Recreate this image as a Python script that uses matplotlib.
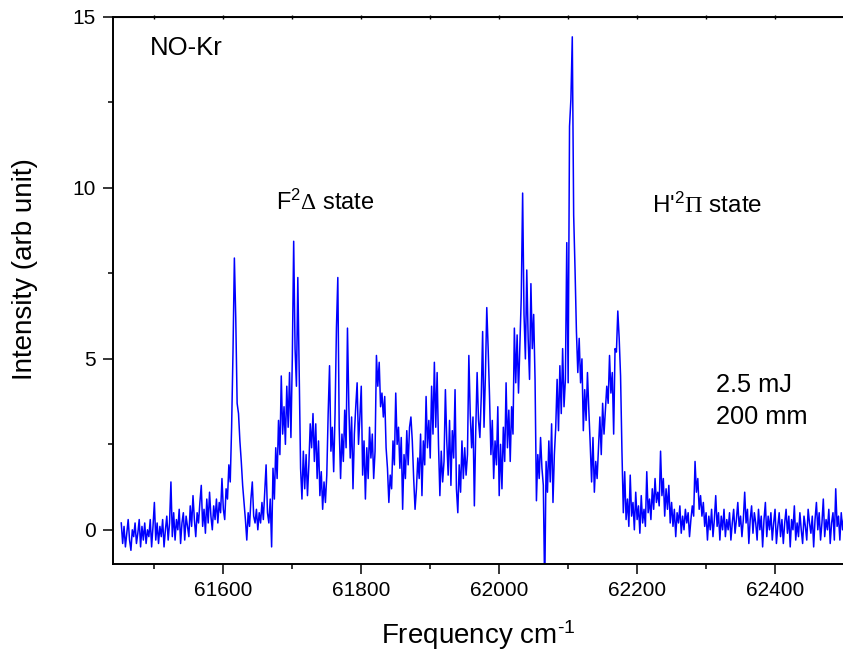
import numpy as np
import matplotlib
matplotlib.use("Agg")
import matplotlib.pyplot as plt
from matplotlib.ticker import MultipleLocator

plt.rcParams['font.family'] = ['Liberation Sans', 'DejaVu Sans']
plt.rcParams['mathtext.fontset'] = 'custom'
plt.rcParams['mathtext.rm'] = 'Liberation Sans'
plt.rcParams['mathtext.it'] = 'Liberation Sans:italic'
plt.rcParams['mathtext.bf'] = 'Liberation Serif'

# Frequency grid (cm^-1)
freq_start = 61452
freq_step = 2

# Intensity readings (arb. unit), in order of increasing frequency
baseline_low = [
    0.2, -0.4, 0.1, -0.5, -0.1, 0.3, -0.3, -0.6, 0.0, -0.2,
    0.2, -0.4, -0.1, 0.3, -0.5, 0.1, -0.3, 0.2, -0.4, 0.0,
    -0.2, 0.3, -0.5, 0.1, 0.8, -0.3, 0.2, -0.4, 0.1, -0.2,
    0.3, -0.5, 0.0, 0.4, -0.3, 0.2, 1.4, -0.2, 0.5, -0.3,
    0.3, 0.0, 0.6, -0.4, 0.2, 0.5, -0.3, 0.4, 0.1, -0.2,
    0.7, 0.1, 1.0, 0.3, -0.2, 0.5, 0.2, 0.8, 1.3, 0.1,
    0.6, -0.1, 0.9, 0.2, 1.1, 0.4, 0.0, 0.7, 0.3, 0.9,
    0.2, 0.8, 0.5, 1.5, 0.6, 0.3, 1.2, 0.9, 1.9, 1.4,
]
f_band = [
    3.0, 5.2, 7.95, 6.2, 3.7, 3.4, 2.6, 2.0, 1.3, 0.8,
    0.3, -0.3, 0.5, 0.1, 0.9, 1.4, 0.4, 0.2, 0.6, 0.0,
    0.5, 0.2, 0.8, 0.3, 1.1, 1.9, 0.5, 0.2, 0.9, -0.5,
    1.8, 0.9, 2.4, 1.5, 3.2, 2.2, 4.5, 2.8, 3.6, 2.5,
    4.2, 3.0, 4.6, 2.7, 5.0, 8.44, 5.3, 4.2, 7.38, 4.5,
    1.8, 0.9, 2.3, 1.2, 2.2, 1.0, 1.9, 3.1, 2.4, 3.4,
    2.0, 3.1, 1.5, 2.6, 1.0, 1.7, 0.6, 1.4, 0.8, 1.6,
    3.4, 4.8, 2.3, 3.0, 1.7, 3.4, 5.9, 7.38, 3.0, 1.5,
    2.8, 2.0, 3.5, 2.4, 5.9, 3.6, 2.1, 3.3, 1.2, 2.8,
    3.6, 4.3, 2.5, 3.3, 4.2, 1.6, 2.6, 0.9, 2.4, 1.5,
    3.0, 2.1, 2.8, 1.5, 2.3, 5.1, 4.2, 4.9, 3.6, 4.0,
    3.3, 3.9, 2.4, 1.8, 0.8, 1.6, 1.2, 2.6, 1.9, 4.0,
    2.5, 3.0, 1.8, 2.7, 0.6, 2.2, 1.5, 2.9, 1.9, 3.0,
    3.3, 2.6, 1.5, 0.6, 1.2, 2.1, 1.5, 2.8, 1.0, 2.6,
    1.9, 3.9, 2.4, 3.2, 2.1, 4.2, 2.8, 4.9, 3.0, 4.6,
    2.5, 1.0, 2.3, 1.4, 2.0, 4.1, 2.6, 1.6, 3.2, 1.3,
    2.9, 2.1, 4.1, 1.2, 0.5, 1.9, 1.1, 2.6, 1.5, 2.4,
    1.6, 2.2, 5.1, 3.4, 2.4, 3.3, 0.7, 2.9, 4.6, 3.2,
    2.7, 3.9, 5.8, 3.0, 4.5, 6.5, 5.3, 3.9, 2.2, 3.2,
    1.5, 2.6, 1.9, 3.6, 1.0, 2.5, 1.2, 3.0, 2.0, 4.3,
    2.4, 3.5, 2.0, 3.6, 2.8, 5.9, 4.3, 5.7, 4.0, 5.4,
]
h_band = [
    6.8, 9.85, 6.3, 5.0, 7.6, 5.6, 4.4, 7.2, 5.3, 6.3,
    4.4, 0.85, 2.2, 1.5, 2.7, 1.8, 1.3, -1.8, 2.0, 1.1,
    2.6, 1.4, 3.1, 0.8, 2.2, 3.0, 4.4, 2.9, 4.8, 3.4,
    5.3, 3.6, 4.4, 8.4, 4.3, 11.8, 12.6, 14.42, 9.2, 7.6,
    5.8, 4.6, 5.6, 4.3, 5.0, 2.9, 4.1, 3.2, 4.6, 3.5,
    2.5, 1.4, 2.7, 1.1, 2.0, 1.5, 2.4, 3.3, 2.2, 3.7,
    2.8, 3.5, 4.2, 3.7, 5.1, 4.0, 4.6, 2.8, 5.3, 5.2,
    6.4, 5.6, 4.5, 2.3, 0.5, 1.7, 0.3, 0.9, 0.1, 1.6,
]
baseline_high = [
    0.4, 0.8, 0.0, 1.1, 0.3, 0.7, -0.1, 1.0, 0.2, 0.6,
    0.1, 1.7, 0.5, 0.9, 0.3, 1.2, 0.6, 1.5, 0.8, 1.1,
    0.7, 2.3, 1.0, 1.5, 0.4, 1.2, 0.6, 1.3, 0.2, 0.8,
    0.1, 0.6, -0.2, 0.5, 0.2, 0.7, -0.1, 0.4, 0.0, 0.6,
    0.2, 0.5, -0.2, 0.3, 0.7, 0.4, 2.0, 1.1, 1.5, 0.6,
    1.0, 0.4, 0.8, 0.1, 0.5, -0.3, 0.4, 0.0, 0.6, -0.2,
    0.3, 1.0, 0.1, 0.5, -0.3, 0.4, 0.0, 0.6, -0.2, 0.3,
    0.0, 0.5, -0.3, 0.2, 0.6, -0.1, 0.3, 0.8, 0.1, 0.4,
    -0.2, 0.3, 1.1, 0.2, 0.6, -0.4, 0.3, 0.7, -0.1, 0.5,
    0.2, -0.3, 0.6, 0.0, 0.4, -0.5, 0.3, 0.8, -0.2, 0.4,
    0.0, 0.5, -0.3, 0.2, 0.6, -0.4, 0.1, 0.5, -0.2, 0.3,
    -0.4, 0.2, 0.6, -0.1, 0.4, -0.5, 0.3, 0.0, 0.7, -0.3,
    0.2, -0.2, 0.5, 0.0, -0.4, 0.4, 0.1, -0.3, 0.6, 0.2,
    -0.1, 0.4, -0.5, 0.3, 0.8, 0.0, 0.5, -0.3, 0.2, 0.9,
    -0.2, 0.3, 0.0, 0.6, -0.4, 0.2, 0.5, -0.3, 1.2, 0.1,
    0.4, -0.3, 0.5, 0.0, 0.4,
]

intensity = np.array(baseline_low + f_band + h_band + baseline_high)
frequency = freq_start + freq_step * np.arange(len(intensity))

x_ticks = [61600, 61800, 62000, 62200, 62400]
y_ticks = [0, 5, 10, 15]

fig = plt.figure(figsize=(8.43, 6.55), dpi=100)
ax = fig.add_axes([113/843, 91/655, 731/843, 547/655])
ax.plot(frequency, intensity, color='#0000FF', linewidth=1.1)

ax.set_xlim(61440, 62500)
ax.set_ylim(-1, 15)
ax.set_xticks(x_ticks)
ax.set_yticks(y_ticks)
ax.xaxis.set_minor_locator(MultipleLocator(100))
ax.yaxis.set_minor_locator(MultipleLocator(2.5))
ax.tick_params(which='major', direction='out', length=7, width=1.1,
               labelsize=15, top=False, right=False, pad=5.5)
ax.tick_params(which='minor', direction='out', length=3.8, width=1.1,
               top=False, right=False)
for s in ax.spines.values():
    s.set_linewidth(1.4)

sec = ax.secondary_xaxis('top')
sec.set_xticks(np.arange(61500, 62501, 100))
sec.tick_params(direction='inout', length=3, width=1.0, labeltop=False)

ax.set_xlabel(r'Frequency cm$^{\text{-1}}$', fontsize=20)
ax.set_ylabel('Intensity (arb unit)', fontsize=20)
ax.xaxis.set_label_coords(0.5, -0.1)
ax.yaxis.set_label_coords(-0.103, 0.54)

ax.text(61493, 14.1, 'NO-Kr', fontsize=18.5, ha='left', va='center')
ax.text(61676, 9.57, r'F$^{2}\mathbf{\Delta}$ state', fontsize=17, ha='left', va='center')
ax.text(62221, 9.48, r"H'$^{2}\mathbf{\Pi}$ state", fontsize=17.5, ha='left', va='center')
ax.text(62315, 4.23, '2.5 mJ', fontsize=18.3, ha='left', va='center')
ax.text(62315, 3.30, '200 mm', fontsize=18.3, ha='left', va='center')

fig.savefig('out.png', dpi=100)
